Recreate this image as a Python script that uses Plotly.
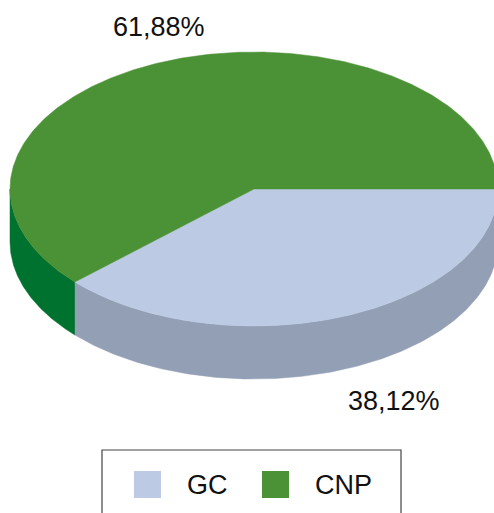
import numpy as np
import plotly.graph_objects as go

categories = ["GC", "CNP"]
values = [38.12, 61.88]
labels = ["38,12%", "61,88%"]
top_colors = ["#bccbe3", "#4b9135"]
side_colors = ["#939fb5", "#00722f"]

W, H = 494, 513
CX, CY, RX, RY, DEPTH = 254, 189, 244, 137, 53
FONT = "Liberation Sans, Arial, sans-serif"

fractions = np.array(values) / sum(values)
edges = np.concatenate([[0], np.cumsum(fractions)]) * 2 * np.pi


def arc(a0, a1, dy=0.0, n=240):
    t = np.linspace(a0, a1, n)
    return CX + RX * np.cos(t), CY + dy + RY * np.sin(t)


def polygon(x, y, color, name):
    return go.Scatter(
        x=x, y=y, mode="lines", fill="toself", fillcolor=color,
        line=dict(color=color, width=0.5), hoverinfo="skip",
        showlegend=False, name=name,
    )


fig = go.Figure()

# Visible side wall: the front half of the disc only (angles 0..pi, y down)
for i, cat in enumerate(categories):
    a0, a1 = max(edges[i], 0.0), min(edges[i + 1], np.pi)
    if a1 > a0:
        x1, y1 = arc(a0, a1)
        x2, y2 = arc(a1, a0, dy=DEPTH)
        fig.add_trace(polygon(np.r_[x1, x2], np.r_[y1, y2], side_colors[i], cat + " side"))

# Top face
for i, cat in enumerate(categories):
    x, y = arc(edges[i], edges[i + 1], n=400)
    fig.add_trace(polygon(np.r_[CX, x, CX], np.r_[CY, y, CY], top_colors[i], cat))

fig.update_layout(
    width=W, height=H, margin=dict(l=0, r=0, t=0, b=0),
    paper_bgcolor="white", plot_bgcolor="white", showlegend=False,
    xaxis=dict(range=[0, W], visible=False, fixedrange=True),
    yaxis=dict(range=[H, 0], visible=False, fixedrange=True),
)

# Value labels
for text, lx, ly in zip(labels, [394, 159], [401, 27]):
    fig.add_annotation(x=lx, y=ly, text=text, showarrow=False,
                       font=dict(family=FONT, size=27, color="#111111"))

# Legend box (runs off the bottom of the picture, as in the reference)
fig.add_shape(type="rect", x0=102, x1=401, y0=450, y1=520,
              line=dict(color="#444444", width=1.2), fillcolor="white", layer="above")
for i, (cat, sx, tx) in enumerate(zip(categories, [134, 262], [207, 343])):
    fig.add_shape(type="rect", x0=sx, x1=sx + 27, y0=471, y1=498,
                  line=dict(width=0), fillcolor=top_colors[i], layer="above")
    fig.add_annotation(x=tx, y=485, text=cat, showarrow=False,
                       font=dict(family=FONT, size=27, color="#111111"))

fig.write_html(
    "out.html",
    config=dict(displayModeBar=False),
    post_script="document.documentElement.style.overflow='hidden';document.body.style.margin='0';document.body.style.overflow='hidden';",
)
